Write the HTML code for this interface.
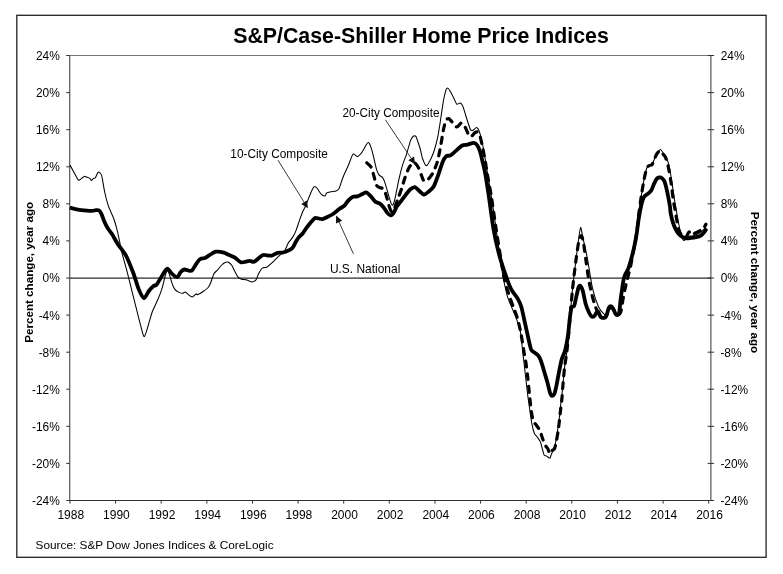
<!DOCTYPE html>
<html><head><meta charset="utf-8"><title>S&amp;P/Case-Shiller Home Price Indices</title>
<style>html,body{margin:0;padding:0;background:#fff}svg{display:block}text{font-family:"Liberation Sans",Arial,sans-serif;fill:#000}</style></head><body>
<svg width="783" height="574" viewBox="0 0 783 574">
<rect x="0" y="0" width="783" height="574" fill="#fff"/>
<rect x="16.8" y="15.3" width="749.3" height="542" fill="none" stroke="#222" stroke-width="1.3"/>
<text x="421" y="43.2" font-size="21.25" font-weight="bold" text-anchor="middle" textLength="375.6" lengthAdjust="spacingAndGlyphs">S&amp;P/Case-Shiller Home Price Indices</text>
<line x1="69.75" y1="55.5" x2="710.9" y2="55.5" stroke="#777" stroke-width="1"/>
<line x1="69.75" y1="55.5" x2="69.75" y2="501.0" stroke="#333" stroke-width="1"/>
<line x1="710.9" y1="55.5" x2="710.9" y2="501.0" stroke="#333" stroke-width="1"/>
<line x1="69.75" y1="500.5" x2="710.9" y2="500.5" stroke="#333" stroke-width="1"/>
<line x1="69.75" y1="278.1" x2="710.9" y2="278.1" stroke="#2a2a2a" stroke-width="1.15"/>
<line x1="66.2" y1="55.5" x2="69.75" y2="55.5" stroke="#333" stroke-width="1"/>
<line x1="707.6" y1="55.5" x2="714.1" y2="55.5" stroke="#333" stroke-width="1"/>
<text x="59.8" y="59.9" font-size="11.9" text-anchor="end">24%</text>
<text x="720.7" y="59.9" font-size="11.9">24%</text>
<line x1="66.2" y1="92.6" x2="69.75" y2="92.6" stroke="#333" stroke-width="1"/>
<line x1="707.6" y1="92.6" x2="714.1" y2="92.6" stroke="#333" stroke-width="1"/>
<text x="59.8" y="97.0" font-size="11.9" text-anchor="end">20%</text>
<text x="720.7" y="97.0" font-size="11.9">20%</text>
<line x1="66.2" y1="129.7" x2="69.75" y2="129.7" stroke="#333" stroke-width="1"/>
<line x1="707.6" y1="129.7" x2="714.1" y2="129.7" stroke="#333" stroke-width="1"/>
<text x="59.8" y="134.1" font-size="11.9" text-anchor="end">16%</text>
<text x="720.7" y="134.1" font-size="11.9">16%</text>
<line x1="66.2" y1="166.8" x2="69.75" y2="166.8" stroke="#333" stroke-width="1"/>
<line x1="707.6" y1="166.8" x2="714.1" y2="166.8" stroke="#333" stroke-width="1"/>
<text x="59.8" y="171.2" font-size="11.9" text-anchor="end">12%</text>
<text x="720.7" y="171.2" font-size="11.9">12%</text>
<line x1="66.2" y1="203.8" x2="69.75" y2="203.8" stroke="#333" stroke-width="1"/>
<line x1="707.6" y1="203.8" x2="714.1" y2="203.8" stroke="#333" stroke-width="1"/>
<text x="59.8" y="208.2" font-size="11.9" text-anchor="end">8%</text>
<text x="720.7" y="208.2" font-size="11.9">8%</text>
<line x1="66.2" y1="240.9" x2="69.75" y2="240.9" stroke="#333" stroke-width="1"/>
<line x1="707.6" y1="240.9" x2="714.1" y2="240.9" stroke="#333" stroke-width="1"/>
<text x="59.8" y="245.3" font-size="11.9" text-anchor="end">4%</text>
<text x="720.7" y="245.3" font-size="11.9">4%</text>
<line x1="66.2" y1="278.0" x2="69.75" y2="278.0" stroke="#333" stroke-width="1"/>
<line x1="707.6" y1="278.0" x2="714.1" y2="278.0" stroke="#333" stroke-width="1"/>
<text x="59.8" y="282.4" font-size="11.9" text-anchor="end">0%</text>
<text x="720.7" y="282.4" font-size="11.9">0%</text>
<line x1="66.2" y1="315.1" x2="69.75" y2="315.1" stroke="#333" stroke-width="1"/>
<line x1="707.6" y1="315.1" x2="714.1" y2="315.1" stroke="#333" stroke-width="1"/>
<text x="59.8" y="319.5" font-size="11.9" text-anchor="end">-4%</text>
<text x="720.4" y="319.5" font-size="11.9">-4%</text>
<line x1="66.2" y1="352.2" x2="69.75" y2="352.2" stroke="#333" stroke-width="1"/>
<line x1="707.6" y1="352.2" x2="714.1" y2="352.2" stroke="#333" stroke-width="1"/>
<text x="59.8" y="356.6" font-size="11.9" text-anchor="end">-8%</text>
<text x="720.4" y="356.6" font-size="11.9">-8%</text>
<line x1="66.2" y1="389.2" x2="69.75" y2="389.2" stroke="#333" stroke-width="1"/>
<line x1="707.6" y1="389.2" x2="714.1" y2="389.2" stroke="#333" stroke-width="1"/>
<text x="59.8" y="393.6" font-size="11.9" text-anchor="end">-12%</text>
<text x="720.4" y="393.6" font-size="11.9">-12%</text>
<line x1="66.2" y1="426.3" x2="69.75" y2="426.3" stroke="#333" stroke-width="1"/>
<line x1="707.6" y1="426.3" x2="714.1" y2="426.3" stroke="#333" stroke-width="1"/>
<text x="59.8" y="430.7" font-size="11.9" text-anchor="end">-16%</text>
<text x="720.4" y="430.7" font-size="11.9">-16%</text>
<line x1="66.2" y1="463.4" x2="69.75" y2="463.4" stroke="#333" stroke-width="1"/>
<line x1="707.6" y1="463.4" x2="714.1" y2="463.4" stroke="#333" stroke-width="1"/>
<text x="59.8" y="467.8" font-size="11.9" text-anchor="end">-20%</text>
<text x="720.4" y="467.8" font-size="11.9">-20%</text>
<line x1="66.2" y1="500.5" x2="69.75" y2="500.5" stroke="#333" stroke-width="1"/>
<line x1="707.6" y1="500.5" x2="714.1" y2="500.5" stroke="#333" stroke-width="1"/>
<text x="59.8" y="504.9" font-size="11.9" text-anchor="end">-24%</text>
<text x="720.4" y="504.9" font-size="11.9">-24%</text>
<line x1="70.0" y1="500.5" x2="70.0" y2="503.6" stroke="#333" stroke-width="1"/>
<text x="70.8" y="518.6" font-size="12" text-anchor="middle">1988</text>
<line x1="115.6" y1="500.5" x2="115.6" y2="503.6" stroke="#333" stroke-width="1"/>
<text x="116.4" y="518.6" font-size="12" text-anchor="middle">1990</text>
<line x1="161.2" y1="500.5" x2="161.2" y2="503.6" stroke="#333" stroke-width="1"/>
<text x="162.0" y="518.6" font-size="12" text-anchor="middle">1992</text>
<line x1="206.9" y1="500.5" x2="206.9" y2="503.6" stroke="#333" stroke-width="1"/>
<text x="207.7" y="518.6" font-size="12" text-anchor="middle">1994</text>
<line x1="252.5" y1="500.5" x2="252.5" y2="503.6" stroke="#333" stroke-width="1"/>
<text x="253.3" y="518.6" font-size="12" text-anchor="middle">1996</text>
<line x1="298.1" y1="500.5" x2="298.1" y2="503.6" stroke="#333" stroke-width="1"/>
<text x="298.9" y="518.6" font-size="12" text-anchor="middle">1998</text>
<line x1="343.7" y1="500.5" x2="343.7" y2="503.6" stroke="#333" stroke-width="1"/>
<text x="344.5" y="518.6" font-size="12" text-anchor="middle">2000</text>
<line x1="389.3" y1="500.5" x2="389.3" y2="503.6" stroke="#333" stroke-width="1"/>
<text x="390.1" y="518.6" font-size="12" text-anchor="middle">2002</text>
<line x1="435.0" y1="500.5" x2="435.0" y2="503.6" stroke="#333" stroke-width="1"/>
<text x="435.8" y="518.6" font-size="12" text-anchor="middle">2004</text>
<line x1="480.6" y1="500.5" x2="480.6" y2="503.6" stroke="#333" stroke-width="1"/>
<text x="481.4" y="518.6" font-size="12" text-anchor="middle">2006</text>
<line x1="526.2" y1="500.5" x2="526.2" y2="503.6" stroke="#333" stroke-width="1"/>
<text x="527.0" y="518.6" font-size="12" text-anchor="middle">2008</text>
<line x1="571.8" y1="500.5" x2="571.8" y2="503.6" stroke="#333" stroke-width="1"/>
<text x="572.6" y="518.6" font-size="12" text-anchor="middle">2010</text>
<line x1="617.4" y1="500.5" x2="617.4" y2="503.6" stroke="#333" stroke-width="1"/>
<text x="618.2" y="518.6" font-size="12" text-anchor="middle">2012</text>
<line x1="663.1" y1="500.5" x2="663.1" y2="503.6" stroke="#333" stroke-width="1"/>
<text x="663.9" y="518.6" font-size="12" text-anchor="middle">2014</text>
<line x1="708.7" y1="500.5" x2="708.7" y2="503.6" stroke="#333" stroke-width="1"/>
<text x="709.5" y="518.6" font-size="12" text-anchor="middle">2016</text>
<text transform="translate(32.8,272.3) rotate(-90)" font-size="11.7" font-weight="bold" text-anchor="middle" textLength="141" lengthAdjust="spacingAndGlyphs">Percent change, year ago</text>
<text transform="translate(750.8,282.5) rotate(90)" font-size="11.7" font-weight="bold" text-anchor="middle" textLength="141.5" lengthAdjust="spacingAndGlyphs">Percent change, year ago</text>
<text x="35.6" y="549.2" font-size="11.8" textLength="238" lengthAdjust="spacingAndGlyphs">Source: S&amp;P Dow Jones Indices &amp; CoreLogic</text>
<path d="M69.9 165.1C70.3 165.7 72.7 169.9 73.5 171.4C74.3 172.9 77.4 179.0 78.0 179.8C78.6 180.6 79.1 180.1 79.7 179.8C80.3 179.5 83.5 176.7 84.2 176.4C84.9 176.1 86.4 177.0 86.9 177.2C87.4 177.4 89.1 177.8 89.6 178.1C90.0 178.4 91.0 180.3 91.4 180.4C91.8 180.5 92.8 178.9 93.2 178.6C93.6 178.3 95.0 178.3 95.4 177.7C95.9 177.1 97.3 173.3 97.7 172.8C98.1 172.3 99.1 172.0 99.5 172.3C99.9 172.6 101.2 174.3 101.6 175.4C102.0 176.5 102.8 181.3 103.1 183.1C103.4 184.9 104.4 190.7 104.9 193.0C105.4 195.3 107.6 203.8 108.5 206.4C109.4 209.0 113.0 216.4 113.9 219.0C114.8 221.6 117.0 229.5 117.6 232.0C118.2 234.5 119.7 242.1 120.1 244.0C120.5 245.9 120.8 248.5 121.5 251.2C122.2 253.9 125.9 267.1 126.9 270.9C127.9 274.7 130.2 284.2 131.4 288.9C132.6 293.6 137.4 313.0 138.6 317.6C139.8 322.2 142.5 332.7 143.1 334.6C143.7 336.5 144.2 336.7 144.5 336.4C144.8 336.1 145.5 334.3 146.3 331.9C147.1 329.5 151.0 315.3 152.1 312.2C153.2 309.1 156.4 302.8 157.4 300.5C158.4 298.2 161.1 291.5 161.9 288.9C162.7 286.3 165.0 276.3 165.5 274.5C166.0 272.7 166.9 271.0 167.3 270.9C167.7 270.8 168.7 272.4 169.1 273.6C169.5 274.8 171.3 281.1 171.8 282.6C172.3 284.1 173.8 287.9 174.5 288.9C175.2 289.9 178.2 292.0 179.0 292.4C179.8 292.8 182.0 293.3 182.6 293.3C183.2 293.3 184.7 291.9 185.3 292.1C185.9 292.3 188.2 294.6 188.9 295.1C189.6 295.6 191.7 297.0 192.4 296.9C193.1 296.8 195.5 294.1 196.0 293.9C196.5 293.7 197.1 294.8 197.8 294.6C198.5 294.4 202.2 292.2 203.2 291.5C204.2 290.8 207.0 288.8 207.7 288.0C208.4 287.2 209.8 284.9 210.4 283.5C211.0 282.1 213.3 275.0 214.0 273.6C214.7 272.2 216.9 270.8 217.6 270.0C218.3 269.2 220.4 266.3 221.2 265.5C222.0 264.7 225.0 262.6 225.7 262.3C226.4 262.0 227.8 262.0 228.4 262.3C229.0 262.6 231.4 264.8 231.9 265.5C232.4 266.2 233.0 267.8 233.6 269.0C234.2 270.2 237.3 276.1 238.1 277.1C238.9 278.1 240.9 278.9 241.7 279.2C242.5 279.5 245.2 279.5 246.2 279.8C247.2 280.1 250.5 281.9 251.5 281.9C252.5 281.9 255.3 280.6 256.0 279.8C256.7 279.0 258.1 274.7 258.7 273.5C259.3 272.3 261.5 268.7 262.3 268.1C263.1 267.5 265.8 267.7 266.8 267.2C267.8 266.7 271.0 263.8 272.2 262.7C273.4 261.6 277.3 257.6 278.5 256.4C279.7 255.2 283.6 252.2 284.6 250.9C285.6 249.6 287.5 244.2 288.3 242.9C289.1 241.6 291.8 238.7 292.6 237.4C293.4 236.1 295.5 231.9 296.2 230.1C296.9 228.3 299.2 221.0 299.9 219.1C300.6 217.2 302.3 212.6 302.9 211.2C303.5 209.8 305.4 206.5 306.0 205.1C306.6 203.7 308.4 198.7 309.0 197.2C309.6 195.7 311.6 190.9 312.1 189.9C312.6 188.9 313.6 187.0 314.1 186.8C314.6 186.6 316.5 187.5 317.0 188.0C317.5 188.5 318.9 191.0 319.4 191.7C319.9 192.4 321.2 194.4 321.8 194.8C322.4 195.2 324.4 196.2 324.9 196.0C325.4 195.8 326.1 193.3 326.7 192.9C327.3 192.5 330.1 191.9 331.0 191.7C331.9 191.5 335.1 191.4 335.9 191.1C336.7 190.8 338.4 189.4 338.9 188.7C339.4 188.0 340.3 185.2 340.7 184.0C341.1 182.8 342.3 178.9 343.1 177.0C343.9 175.1 347.5 167.3 348.5 165.0C349.5 162.7 352.1 155.0 353.0 154.2C353.9 153.4 356.5 156.8 357.4 156.6C358.3 156.4 361.1 153.4 361.9 152.4C362.7 151.4 364.9 147.2 365.5 146.2C366.1 145.2 367.7 142.5 368.2 142.6C368.7 142.7 370.4 145.7 370.9 147.1C371.4 148.5 373.1 154.8 373.6 156.9C374.1 159.1 375.8 166.8 376.3 168.6C376.8 170.4 378.4 174.0 379.0 174.9C379.6 175.8 382.0 176.7 382.6 177.6C383.2 178.5 384.7 181.9 385.3 183.8C385.9 185.7 388.3 194.4 388.9 196.4C389.5 198.4 390.8 202.7 391.2 203.6C391.6 204.5 392.6 205.5 393.0 205.0C393.4 204.5 394.5 200.7 395.1 198.2C395.7 195.7 398.0 183.5 398.7 180.3C399.4 177.1 401.5 168.6 402.3 165.9C403.1 163.2 406.0 155.8 406.8 153.3C407.6 150.8 409.8 142.5 410.4 140.8C411.0 139.1 412.6 136.8 413.1 136.3C413.6 135.9 415.3 135.6 415.8 136.3C416.3 137.0 418.0 142.1 418.5 143.5C419.0 144.9 420.1 148.4 420.5 150.0C420.9 151.6 422.1 157.4 422.7 159.0C423.3 160.6 425.5 165.8 426.3 165.8C427.1 165.8 430.0 160.6 430.8 159.0C431.6 157.4 433.7 152.3 434.4 150.0C435.1 147.7 437.4 138.7 438.0 135.6C438.6 132.5 440.1 122.9 440.6 119.5C441.1 116.1 442.8 104.5 443.3 101.5C443.8 98.5 445.6 91.2 446.0 89.9C446.4 88.6 447.4 87.9 447.8 88.1C448.2 88.3 449.9 90.6 450.5 91.7C451.1 92.8 453.5 97.5 454.1 98.8C454.7 100.0 456.2 103.8 456.8 104.2C457.4 104.6 459.8 102.7 460.4 103.0C461.0 103.3 462.5 105.3 463.1 106.9C463.7 108.5 466.0 116.3 466.7 118.6C467.4 120.8 469.7 128.2 470.3 129.4C470.9 130.6 472.4 130.5 473.0 130.3C473.6 130.1 475.9 127.5 476.5 127.6C477.1 127.7 478.7 129.9 479.2 131.2C479.7 132.5 481.4 138.6 481.9 141.0C482.4 143.4 484.1 152.3 484.6 155.4C485.1 158.5 486.6 167.8 487.3 172.0C488.0 176.2 490.5 191.4 491.4 196.9C492.3 202.4 495.1 221.5 495.9 227.4C496.7 233.3 499.0 250.9 499.7 256.0C500.4 261.1 502.5 273.8 503.3 278.0C504.1 282.2 506.5 293.8 507.8 297.7C509.1 301.6 514.6 314.0 515.9 317.4C517.2 320.8 519.7 328.5 520.4 331.8C521.1 335.1 522.0 346.0 522.5 350.0C523.0 354.0 524.5 367.0 525.0 371.5C525.5 376.0 527.2 390.8 527.7 394.9C528.2 399.0 529.7 409.2 530.1 412.2C530.5 415.1 531.6 422.3 532.0 424.4C532.4 426.5 533.9 432.2 534.4 433.5C534.9 434.8 536.8 436.3 537.4 437.2C538.0 438.1 540.0 440.9 540.5 442.1C541.0 443.3 541.9 447.5 542.3 448.8C542.7 450.1 543.7 454.4 544.1 455.1C544.5 455.8 546.0 455.8 546.6 456.1C547.2 456.4 549.6 458.4 550.0 458.3C550.4 458.2 550.6 456.2 550.9 455.5C551.2 454.8 552.3 452.2 552.7 451.2C553.1 450.2 554.7 446.8 555.1 445.1C555.5 443.4 556.6 436.4 557.0 434.1C557.4 431.8 558.5 424.2 558.8 422.0C559.1 419.8 559.8 414.4 560.0 412.2C560.2 410.0 560.9 402.4 561.2 400.0C561.5 397.6 562.4 390.9 562.7 387.7C563.0 384.5 564.1 371.1 564.5 367.9C564.9 364.7 566.0 357.2 566.3 355.4C566.6 353.6 566.8 352.1 567.1 349.7C567.4 347.3 568.5 335.7 568.9 331.8C569.2 327.9 570.2 314.4 570.6 310.3C571.0 306.2 572.0 294.1 572.4 290.5C572.8 286.9 573.8 277.4 574.2 274.4C574.6 271.3 575.6 263.4 576.0 260.0C576.4 256.6 578.0 243.3 578.5 240.0C579.0 236.7 580.1 227.6 580.6 227.4C581.1 227.2 582.3 234.7 583.0 238.0C583.7 241.3 586.8 255.1 587.7 260.0C588.6 264.9 591.1 282.2 592.2 286.9C593.3 291.6 597.3 304.0 598.5 306.7C599.7 309.4 603.0 313.1 603.9 313.9C604.8 314.7 606.3 315.1 607.0 314.4C607.7 313.7 609.9 307.6 610.6 307.2C611.3 306.8 613.6 310.1 614.2 310.8C614.8 311.5 616.4 314.6 616.9 314.4C617.4 314.2 619.1 311.3 619.6 309.0C620.1 306.7 621.8 294.2 622.3 291.0C622.8 287.8 624.5 278.9 625.0 276.7C625.5 274.5 627.1 270.4 627.7 268.6C628.3 266.8 630.7 260.8 631.3 258.7C631.9 256.6 633.5 250.4 634.0 247.9C634.5 245.4 636.2 236.8 636.7 233.6C637.2 230.4 638.1 219.6 638.6 215.8C639.1 212.0 640.8 199.6 641.3 196.0C641.8 192.4 643.5 182.7 644.0 179.9C644.5 177.1 646.2 169.6 646.7 168.2C647.2 166.8 648.9 165.9 649.4 165.5C649.9 165.1 651.6 165.3 652.1 164.6C652.6 163.9 654.2 159.5 654.7 158.3C655.2 157.1 656.8 153.9 657.4 153.0C658.0 152.1 659.9 149.4 660.5 149.4C661.1 149.4 662.7 152.2 663.2 153.0C663.8 153.8 665.4 155.8 666.0 157.0C666.6 158.2 668.5 163.0 669.1 165.5C669.7 168.0 671.3 178.3 671.8 181.7C672.3 185.1 674.0 196.2 674.5 199.6C675.0 203.0 676.7 212.8 677.2 215.8C677.8 218.8 679.5 227.8 680.0 230.0C680.5 232.2 681.9 237.0 682.2 238.0C682.6 239.0 683.2 240.2 683.5 240.4C683.8 240.6 685.0 239.9 685.5 239.5C686.0 239.1 688.3 236.3 689.0 236.0C689.7 235.7 691.6 236.2 692.4 236.0C693.2 235.8 696.0 234.9 696.9 234.5C697.8 234.1 700.7 232.1 701.4 231.5C702.1 230.9 703.6 229.7 704.1 229.0C704.6 228.3 706.5 224.9 706.8 224.5" fill="none" stroke="#000" stroke-width="1.05" stroke-linejoin="round"/>
<path d="M366.8 162.8C367.3 163.3 370.0 165.2 370.9 166.8C371.8 168.4 372.9 172.5 373.6 174.9C374.3 177.3 375.6 183.0 376.3 184.7C377.0 186.4 378.0 186.8 379.0 187.4C380.0 188.0 382.5 187.8 383.5 188.9C384.5 190.0 385.5 193.3 386.2 195.5C386.9 197.7 388.2 203.2 388.9 205.4C389.6 207.6 390.8 211.2 391.5 211.7C392.2 212.2 393.4 210.7 394.2 209.0C395.0 207.3 396.8 201.7 397.8 199.1C398.8 196.5 400.4 192.1 401.4 189.2C402.4 186.3 404.0 180.3 405.0 177.6C406.0 174.9 407.6 170.5 408.6 168.6C409.6 166.7 411.4 164.0 412.2 163.2C413.0 162.4 414.1 162.2 414.9 162.8C415.7 163.4 417.6 166.0 418.5 167.7C419.4 169.4 420.8 173.8 421.5 175.5C422.2 177.2 422.8 179.8 423.6 180.5C424.4 181.2 426.0 181.5 427.2 180.5C428.4 179.5 431.3 175.7 432.6 173.3C433.9 170.9 436.0 166.2 437.1 162.6C438.2 159.0 439.8 150.7 440.6 146.4C441.4 142.1 442.6 133.8 443.3 130.3C444.0 126.8 445.3 122.0 446.0 120.4C446.7 118.8 447.9 118.4 448.7 118.6C449.5 118.8 451.2 121.1 452.3 122.2C453.4 123.3 455.6 126.9 456.8 127.0C458.0 127.1 460.2 123.1 461.3 123.1C462.4 123.1 463.9 125.2 464.9 126.7C465.9 128.2 467.7 133.4 468.5 134.7C469.3 136.0 470.4 136.7 471.2 136.5C472.0 136.3 473.9 133.5 474.7 132.9C475.5 132.3 476.7 131.5 477.4 132.0C478.1 132.5 479.4 134.3 480.1 136.5C480.8 138.7 482.1 144.7 482.8 148.2C483.5 151.7 484.9 159.0 485.5 162.6C486.1 166.2 486.7 170.4 487.5 175.0C488.3 179.6 490.3 189.9 491.4 196.9C492.5 203.9 494.7 219.5 495.9 227.4C497.1 235.3 499.3 249.3 500.4 256.0C501.5 262.7 503.1 272.9 504.2 278.0C505.3 283.1 507.5 290.3 508.7 294.1C509.9 297.9 512.0 303.4 513.2 306.7C514.4 310.0 516.6 315.4 517.7 319.2C518.8 323.0 520.5 331.0 521.3 335.4C522.1 339.8 523.4 348.4 524.0 352.0C524.6 355.6 525.4 359.3 525.9 362.6C526.4 365.9 527.2 372.6 527.7 376.9C528.2 381.2 529.0 390.4 529.5 394.9C530.0 399.4 530.8 407.6 531.3 411.0C531.8 414.4 532.5 418.8 533.2 420.7C533.9 422.6 535.3 423.7 536.2 425.0C537.1 426.3 539.1 428.8 539.9 430.5C540.7 432.2 541.6 435.9 542.3 437.8C543.0 439.7 544.1 443.0 544.8 444.5C545.5 446.0 547.1 447.6 547.8 448.8C548.5 450.0 549.4 453.5 550.0 453.7C550.6 453.9 551.5 451.3 552.1 450.6C552.7 449.9 553.9 450.0 554.5 448.8C555.1 447.6 555.8 443.9 556.3 441.5C556.8 439.1 557.8 433.3 558.2 430.5C558.6 427.7 559.1 423.5 559.4 420.7C559.7 417.9 560.3 412.6 560.6 409.8C560.9 407.0 561.5 402.9 561.8 400.0C562.1 397.1 562.3 392.0 562.7 387.7C563.1 383.4 564.0 372.2 564.5 367.9C565.0 363.6 566.0 357.8 566.3 355.4C566.6 353.0 566.8 352.8 567.1 349.7C567.4 346.6 568.4 337.1 568.9 331.8C569.4 326.5 570.1 315.8 570.6 310.3C571.1 304.8 571.9 295.3 572.4 290.5C572.9 285.7 573.7 278.5 574.2 274.4C574.7 270.3 575.4 264.2 576.0 260.0C576.6 255.8 577.8 246.3 578.5 243.0C579.2 239.7 580.5 235.5 581.2 235.5C581.9 235.5 582.9 239.7 583.5 243.0C584.1 246.3 585.3 256.0 585.9 260.0C586.5 264.0 587.2 269.6 587.7 272.9C588.2 276.2 589.0 281.5 589.6 284.4C590.2 287.3 591.4 292.4 592.0 294.9C592.6 297.4 593.7 301.3 594.4 303.5C595.1 305.7 596.4 309.4 597.2 311.2C598.0 313.0 599.8 316.0 600.6 316.9C601.4 317.8 602.6 318.2 603.5 317.9C604.4 317.6 606.1 315.8 607.0 314.4C607.9 313.0 609.6 307.7 610.6 307.2C611.6 306.7 613.3 309.8 614.2 310.8C615.1 311.8 616.5 314.8 617.4 315.0C618.3 315.2 619.9 314.3 620.7 312.1C621.5 309.9 622.5 301.8 623.1 298.7C623.7 295.6 624.5 291.4 625.0 289.2C625.5 287.0 626.0 284.4 626.5 282.5C627.0 280.6 628.0 276.5 628.4 274.8C628.8 273.1 629.3 272.0 629.8 270.0C630.3 268.0 631.2 262.9 631.8 260.0C632.4 257.1 633.3 251.4 634.0 247.9C634.7 244.4 636.1 237.9 636.7 233.6C637.3 229.3 638.0 220.8 638.6 215.8C639.2 210.8 640.6 200.8 641.3 196.0C642.0 191.2 643.3 183.6 644.0 179.9C644.7 176.2 646.0 170.1 646.7 168.2C647.4 166.3 648.7 166.0 649.4 165.5C650.1 165.0 651.4 165.6 652.1 164.6C652.8 163.6 654.0 159.8 654.7 158.3C655.4 156.8 656.7 154.0 657.4 153.0C658.1 152.0 659.4 150.7 660.1 150.8C660.8 150.9 662.1 152.9 662.8 153.8C663.5 154.7 664.8 155.7 665.5 157.4C666.2 159.1 667.5 163.2 668.2 166.4C668.9 169.6 670.2 177.3 670.9 181.7C671.6 186.1 672.7 196.0 673.2 199.6C673.7 203.2 674.4 206.1 674.9 208.9C675.4 211.7 676.4 217.9 676.9 220.7C677.4 223.5 678.1 228.1 678.8 230.1C679.5 232.1 681.0 234.6 682.0 235.5C683.0 236.4 685.1 237.5 686.0 237.0C686.9 236.5 688.2 232.3 689.0 232.0C689.8 231.7 691.2 234.9 692.0 235.0C692.8 235.1 694.0 233.7 695.3 233.0C696.6 232.3 700.4 230.4 701.6 229.7C702.8 229.0 703.4 228.2 704.0 227.5C704.6 226.8 705.6 224.6 705.9 224.2" fill="none" stroke="#000" stroke-width="3.2" stroke-linejoin="round" stroke-linecap="round" stroke-dasharray="6 6.7"/>
<path d="M69.9 207.7C71.0 208.0 75.7 209.2 78.0 209.6C80.3 210.0 85.0 210.5 86.9 210.7C88.8 210.9 91.1 211.0 92.3 210.9C93.5 210.8 95.0 210.3 95.9 210.2C96.8 210.1 98.4 210.0 99.1 210.5C99.8 211.0 100.6 212.2 101.3 213.6C102.0 215.0 103.2 218.9 104.0 220.8C104.8 222.7 106.5 226.2 107.6 228.0C108.7 229.8 111.0 232.5 112.3 234.6C113.6 236.7 115.9 241.2 117.7 244.0C119.5 246.8 123.9 251.8 126.0 255.6C128.1 259.4 131.5 268.3 133.2 272.7C134.9 277.1 137.2 285.5 138.6 288.9C140.0 292.3 142.7 297.9 144.0 298.2C145.3 298.5 147.2 293.2 148.5 291.5C149.8 289.8 152.7 286.7 153.8 285.8C154.9 284.9 155.3 286.4 156.5 284.9C157.7 283.4 161.4 276.7 162.8 274.5C164.2 272.3 166.1 268.8 167.3 268.7C168.5 268.6 170.5 272.5 171.8 273.6C173.1 274.7 176.0 277.4 177.2 277.2C178.4 277.0 179.8 272.8 180.8 271.8C181.8 270.8 183.2 269.6 184.4 269.5C185.6 269.4 188.7 270.8 189.8 270.9C190.9 271.0 191.5 271.1 192.4 270.0C193.3 268.9 195.8 264.3 196.9 262.8C198.0 261.3 199.4 259.5 200.5 258.9C201.6 258.3 203.8 258.5 205.0 258.0C206.2 257.5 208.1 255.9 209.5 255.1C210.9 254.3 213.9 252.0 215.8 251.7C217.7 251.4 222.1 252.1 223.9 252.6C225.7 253.1 227.8 254.5 229.2 255.1C230.6 255.7 233.1 256.5 234.6 257.4C236.1 258.3 239.4 261.6 240.8 262.2C242.2 262.8 244.1 262.0 245.3 261.8C246.5 261.6 248.5 260.9 249.7 260.9C250.9 260.9 253.0 262.2 254.2 261.8C255.4 261.4 257.5 259.1 258.7 258.2C259.9 257.3 262.0 255.4 263.2 255.0C264.4 254.6 266.5 255.4 267.7 255.5C268.9 255.6 270.9 255.9 272.2 255.5C273.5 255.1 276.2 253.2 277.6 252.8C279.0 252.4 281.5 252.9 283.0 252.5C284.5 252.1 287.9 250.8 289.2 250.1C290.5 249.4 291.9 248.4 292.8 247.4C293.7 246.4 294.8 243.6 295.6 242.3C296.4 241.0 297.7 238.6 298.7 237.4C299.7 236.2 301.8 234.5 302.9 233.2C304.0 231.9 305.5 229.2 306.6 227.7C307.7 226.2 309.8 223.5 310.9 222.2C312.0 220.9 314.0 218.4 315.1 217.9C316.2 217.4 317.8 218.3 318.8 218.5C319.8 218.7 321.3 219.3 322.4 219.1C323.5 218.9 325.8 217.7 327.3 217.0C328.8 216.3 331.8 214.8 333.4 213.7C335.0 212.6 338.0 209.9 339.5 208.8C341.0 207.7 343.3 206.8 344.4 205.7C345.5 204.6 346.9 202.1 348.0 200.9C349.1 199.7 351.7 197.4 353.0 196.8C354.3 196.2 356.2 196.7 357.4 196.4C358.6 196.1 360.7 194.8 361.9 194.3C363.1 193.8 365.2 192.2 366.4 192.5C367.6 192.8 369.7 195.2 370.9 196.4C372.1 197.6 374.2 200.8 375.4 201.8C376.6 202.8 378.8 202.9 379.9 203.6C381.0 204.3 382.5 206.0 383.5 207.2C384.5 208.4 386.2 211.5 387.1 212.6C388.0 213.7 389.8 215.2 390.6 215.3C391.4 215.4 392.5 214.7 393.3 213.5C394.1 212.3 395.9 207.9 396.9 206.3C397.9 204.7 399.3 203.4 400.5 201.8C401.7 200.2 404.6 196.3 405.9 194.6C407.2 192.9 409.2 190.2 410.4 189.2C411.6 188.2 413.7 186.9 414.9 187.1C416.1 187.3 418.2 190.0 419.4 191.0C420.6 192.0 422.7 194.5 423.9 194.6C425.1 194.7 427.0 193.0 428.3 191.9C429.6 190.8 432.5 188.5 433.7 186.5C434.9 184.5 436.3 180.2 437.5 177.0C438.7 173.8 441.3 165.4 442.4 162.6C443.5 159.8 444.9 157.3 446.0 156.3C447.1 155.3 449.2 156.1 450.5 155.4C451.8 154.7 454.3 152.2 455.9 150.9C457.5 149.6 460.6 146.3 462.2 145.5C463.8 144.7 466.0 145.0 467.6 144.6C469.2 144.2 472.6 142.7 473.9 142.8C475.2 142.9 476.6 144.3 477.4 145.5C478.2 146.7 479.4 149.5 480.1 151.8C480.8 154.1 482.1 159.7 482.8 162.6C483.5 165.5 484.4 169.1 485.2 173.3C486.0 177.5 487.4 186.8 488.5 194.0C489.6 201.2 491.9 219.6 493.2 227.4C494.5 235.2 496.9 246.1 498.6 252.6C500.3 259.1 504.3 271.3 506.0 276.2C507.7 281.1 509.8 286.6 511.4 289.6C513.0 292.6 516.4 296.3 517.7 298.6C519.0 300.9 520.3 303.5 521.3 306.7C522.3 309.9 523.9 318.5 524.9 322.8C525.9 327.1 527.7 335.4 528.5 339.0C529.3 342.6 530.3 347.8 531.2 349.7C532.1 351.6 534.5 352.3 535.6 353.3C536.7 354.3 538.3 355.4 539.2 356.9C540.1 358.4 541.4 362.2 542.1 364.4C542.8 366.6 544.0 370.9 544.7 373.3C545.4 375.7 546.7 379.7 547.4 382.3C548.1 384.9 549.5 391.3 550.1 393.1C550.7 394.9 551.3 395.7 551.9 395.8C552.5 395.9 553.7 395.3 554.3 394.0C554.9 392.7 555.8 388.9 556.4 385.9C557.0 382.9 558.4 375.1 559.1 371.5C559.8 367.9 561.0 361.9 561.8 359.0C562.6 356.1 564.5 352.8 565.3 349.7C566.1 346.6 567.4 339.5 568.0 335.4C568.6 331.3 569.2 322.9 569.7 319.2C570.2 315.5 570.9 309.4 571.5 307.6C572.1 305.8 573.5 307.6 574.2 305.8C574.9 304.0 576.3 296.6 576.9 294.1C577.5 291.6 578.2 288.0 578.7 286.9C579.2 285.8 580.0 285.5 580.5 286.0C581.0 286.5 582.0 288.1 582.7 290.5C583.4 292.9 584.9 301.1 585.7 304.0C586.5 306.9 588.2 310.8 589.0 312.5C589.8 314.2 590.8 316.0 591.5 316.5C592.2 317.0 593.6 316.7 594.4 316.0C595.2 315.3 596.9 311.1 597.7 311.2C598.5 311.3 599.8 316.0 600.6 316.9C601.4 317.8 602.8 317.9 603.5 317.9C604.2 317.9 605.2 318.2 605.9 316.9C606.6 315.6 608.1 309.7 608.7 308.3C609.3 306.9 610.1 306.2 610.7 306.2C611.3 306.2 612.4 307.3 613.0 308.3C613.6 309.3 614.8 312.7 615.4 313.6C616.0 314.5 616.9 315.2 617.4 315.0C617.9 314.8 618.9 314.3 619.3 312.1C619.7 309.9 620.3 301.8 620.7 298.7C621.1 295.6 621.7 291.7 622.1 289.2C622.5 286.7 623.1 281.7 623.6 279.6C624.1 277.5 624.9 275.1 625.5 273.8C626.1 272.5 627.1 271.5 627.9 269.5C628.7 267.5 630.5 261.6 631.3 258.7C632.1 255.8 633.3 251.2 634.0 247.9C634.7 244.6 636.1 237.4 636.7 233.6C637.3 229.8 638.0 223.2 638.6 219.4C639.2 215.6 640.6 208.0 641.3 205.0C642.0 202.0 643.2 198.4 644.0 196.9C644.8 195.4 646.6 194.7 647.6 193.9C648.6 193.1 650.4 191.9 651.2 190.6C652.0 189.3 653.1 185.9 653.8 184.4C654.5 182.9 655.8 179.9 656.5 179.0C657.2 178.1 658.5 177.6 659.2 177.5C659.9 177.4 661.2 177.5 661.9 178.1C662.6 178.7 663.9 179.8 664.6 181.7C665.3 183.6 666.6 189.1 667.3 192.4C668.0 195.7 669.6 204.1 670.0 206.8C670.4 209.5 670.2 210.7 670.6 212.8C671.0 214.9 672.2 220.1 672.9 222.3C673.6 224.5 674.9 227.7 675.7 229.3C676.5 230.9 677.9 232.9 678.8 234.0C679.7 235.1 681.6 236.6 682.7 237.2C683.8 237.8 685.5 238.2 686.7 238.3C687.9 238.4 690.1 238.0 691.4 237.9C692.7 237.8 694.8 237.5 696.1 237.2C697.4 236.9 699.8 236.2 700.8 235.6C701.8 235.0 703.1 233.4 703.9 232.5C704.7 231.6 706.3 229.0 706.7 228.5" fill="none" stroke="#000" stroke-width="3.8" stroke-linejoin="round" stroke-linecap="butt"/>
<text x="230.3" y="157.5" font-size="11.9" textLength="97.5" lengthAdjust="spacingAndGlyphs">10-City Composite</text>
<line x1="278.0" y1="160.2" x2="304.1" y2="202.2" stroke="#222" stroke-width="0.9"/><polygon points="307.9,208.3 301.2,204.0 307.0,200.4" fill="#111"/>
<text x="342.5" y="117.4" font-size="11.9" textLength="97" lengthAdjust="spacingAndGlyphs">20-City Composite</text>
<line x1="385.4" y1="119.8" x2="411.2" y2="158.3" stroke="#222" stroke-width="0.9"/><polygon points="415.2,164.3 408.4,160.2 414.0,156.4" fill="#111"/>
<text x="329.9" y="272.7" font-size="11.9" textLength="70.4" lengthAdjust="spacingAndGlyphs">U.S. National</text>
<line x1="353.4" y1="253.8" x2="339.1" y2="222.1" stroke="#222" stroke-width="0.9"/><polygon points="336.1,215.5 342.2,220.7 336.0,223.5" fill="#111"/>
</svg></body></html>
